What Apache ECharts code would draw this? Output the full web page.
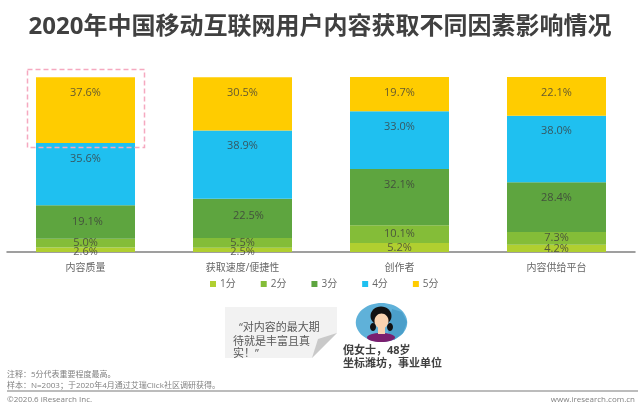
<!DOCTYPE html>
<html lang="zh-CN">
<head>
    <meta charset="UTF-8">
    <title>2020年中国移动互联网用户内容获取不同因素影响情况</title>
    <script src="https://cdn.jsdelivr.net/npm/echarts@6/dist/echarts.min.js"></script>
    <style>
        html, body { margin: 0; padding: 0; background: #fff; }
    </style>
</head>
<body>
    <div id="main" style="width: 640px; height: 412px;"></div>
    <script type="text/javascript">
        const categories = ['内容质量', '获取速度/便捷性', '创作者', '内容供给平台'];
        const score1 = [2.6, 2.5, 5.2, 4.2];
        const score2 = [5.0, 5.5, 10.1, 7.3];
        const score3 = [19.1, 22.5, 32.1, 28.4];
        const score4 = [35.6, 38.9, 33.0, 38.0];
        const score5 = [37.6, 30.5, 19.7, 22.1];

        const FONT = '"Open Sans", "Noto Sans CJK SC", sans-serif';
        const LABEL_COLOR = 'rgba(60, 60, 60, 0.8)';

        // small segments get a centred label, tall ones hang from the top
        function makeSeries(name, values, color, position, nudges) {
            return {
                name: name,
                type: 'bar',
                stack: 'total',
                barWidth: 99,
                itemStyle: { color: color },
                data: values.map((v, i) => {
                    const offset = nudges && nudges[i];
                    return offset ? { value: v, label: { offset: offset } } : v;
                }),
                label: {
                    show: true,
                    position: position,
                    distance: 10,
                    formatter: (p) => p.value.toFixed(1) + '%',
                    color: LABEL_COLOR,
                    fontFamily: FONT,
                    fontSize: 11
                }
            };
        }

        function text(x, y, str, fontSize, color, extra) {
            return {
                type: 'text',
                x: x,
                y: y,
                z: 20,
                style: Object.assign({
                    text: str,
                    fontFamily: FONT,
                    fontSize: fontSize,
                    fill: color,
                    verticalAlign: 'middle'
                }, extra || {})
            };
        }

        let myChart = echarts.init(document.getElementById('main'));

        let options = {
            backgroundColor: '#fff',
            animation: false,
            title: {
                text: '2020年中国移动互联网用户内容获取不同因素影响情况',
                left: 'center',
                top: 10,
                textStyle: { fontFamily: FONT, fontSize: 24, fontWeight: 'bold', color: '#404040' }
            },
            legend: {
                left: 205,
                top: 274,
                itemWidth: 6,
                itemHeight: 6,
                itemGap: 25,
                itemStyle: { borderWidth: 0 },
                icon: 'rect',
                textStyle: { fontFamily: FONT, fontSize: 10, color: '#666', padding: [0, 0, 0, -1] }
            },
            grid: { left: 7, right: 5, top: 77, height: 175 },
            xAxis: {
                type: 'category',
                data: categories,
                axisTick: { show: false },
                axisLine: { lineStyle: { color: '#808080', width: 1.5 } },
                axisLabel: { color: '#666', fontFamily: FONT, fontSize: 10, margin: 11 }
            },
            yAxis: { type: 'value', min: 0, max: 100, show: false },
            series: [
                makeSeries('1分', score1, '#b0cf30', 'inside', [[0, 2], [0, 2], null, [0, 1]]),
                makeSeries('2分', score2, '#84bd38', 'inside'),
                makeSeries('3分', score3, '#5ea53f', 'insideTop', [[2, 1], [6, 2], null, null]),
                makeSeries('4分', score4, '#1fc0f0', 'insideTop'),
                makeSeries('5分', score5, '#ffcc00', 'insideTop')
            ],
            graphic: [
                // dashed highlight round the first bar's top segment
                {
                    type: 'rect', z: 15,
                    shape: { x: 27.5, y: 69.5, width: 117, height: 78 },
                    style: { fill: 'none', stroke: '#f5a9c0', lineWidth: 1.5, lineDash: [5, 3] }
                },
                // quote bubble
                {
                    type: 'polygon', z: 10,
                    shape: { points: [[225, 307], [337, 307], [337, 333], [312, 358], [225, 358]] },
                    style: { fill: '#f2f2f2' }
                },
                {
                    type: 'polygon', z: 11,
                    shape: { points: [[337, 333], [318, 339], [312, 358]] },
                    style: { fill: '#c9c9c9' }
                },
                text(239, 328, '“对内容的最大期', 11, '#595959'),
                text(233, 342, '待就是丰富且真', 11, '#595959'),
                text(233, 354, '实！”', 11, '#595959'),
                // avatar
                {
                    type: 'ellipse', z: 10,
                    shape: { cx: 381.5, cy: 322.5, rx: 25.7, ry: 19.5 },
                    style: { fill: '#5fb1d9' }
                },
                {
                    type: 'polygon', z: 11,
                    shape: { points: [[392, 309], [402, 312], [407, 322], [403, 333], [394, 340], [388, 332]] },
                    style: { fill: '#4b9fca' }
                },
                {
                    type: 'ellipse', z: 12,
                    shape: { cx: 381, cy: 337.5, rx: 14, ry: 4.5 },
                    style: { fill: '#7a1f6f' }
                },
                {
                    type: 'ellipse', z: 13,
                    shape: { cx: 381, cy: 316, rx: 10.5, ry: 9.5 },
                    style: { fill: '#111' }
                },
                {
                    type: 'rect', z: 13,
                    shape: { x: 378, y: 326, width: 7, height: 8 },
                    style: { fill: '#f8d3b0' }
                },
                {
                    type: 'ellipse', z: 14,
                    shape: { cx: 381.5, cy: 321, rx: 7, ry: 7.5 },
                    style: { fill: '#f8d3b0' }
                },
                {
                    type: 'ellipse', z: 14,
                    shape: { cx: 373, cy: 327, rx: 3, ry: 4 },
                    style: { fill: '#111' }
                },
                {
                    type: 'ellipse', z: 14,
                    shape: { cx: 390, cy: 327, rx: 3, ry: 4 },
                    style: { fill: '#111' }
                },
                text(343, 351, '倪女士，48岁', 11, '#404040', { fontWeight: 'bold' }),
                text(343, 364, '坐标潍坊，事业单位', 11, '#404040', { fontWeight: 'bold' }),
                // footnotes and footer
                text(7, 375, '注释：5分代表重要程度最高。', 8, '#808080'),
                text(7, 386, '样本：N=2003；于2020年4月通过艾瑞Click社区调研获得。', 8, '#808080'),
                {
                    type: 'line', z: 5,
                    shape: { x1: 7, y1: 391, x2: 638, y2: 391 },
                    style: { stroke: '#a6a6a6', lineWidth: 1.5 }
                },
                text(7, 400, '©2020.6 iResearch Inc.', 8, '#808080'),
                text(635, 400, 'www.iresearch.com.cn', 8, '#808080', { align: 'right' })
            ]
        };

        myChart.setOption(options);
    </script>
</body>
</html>
